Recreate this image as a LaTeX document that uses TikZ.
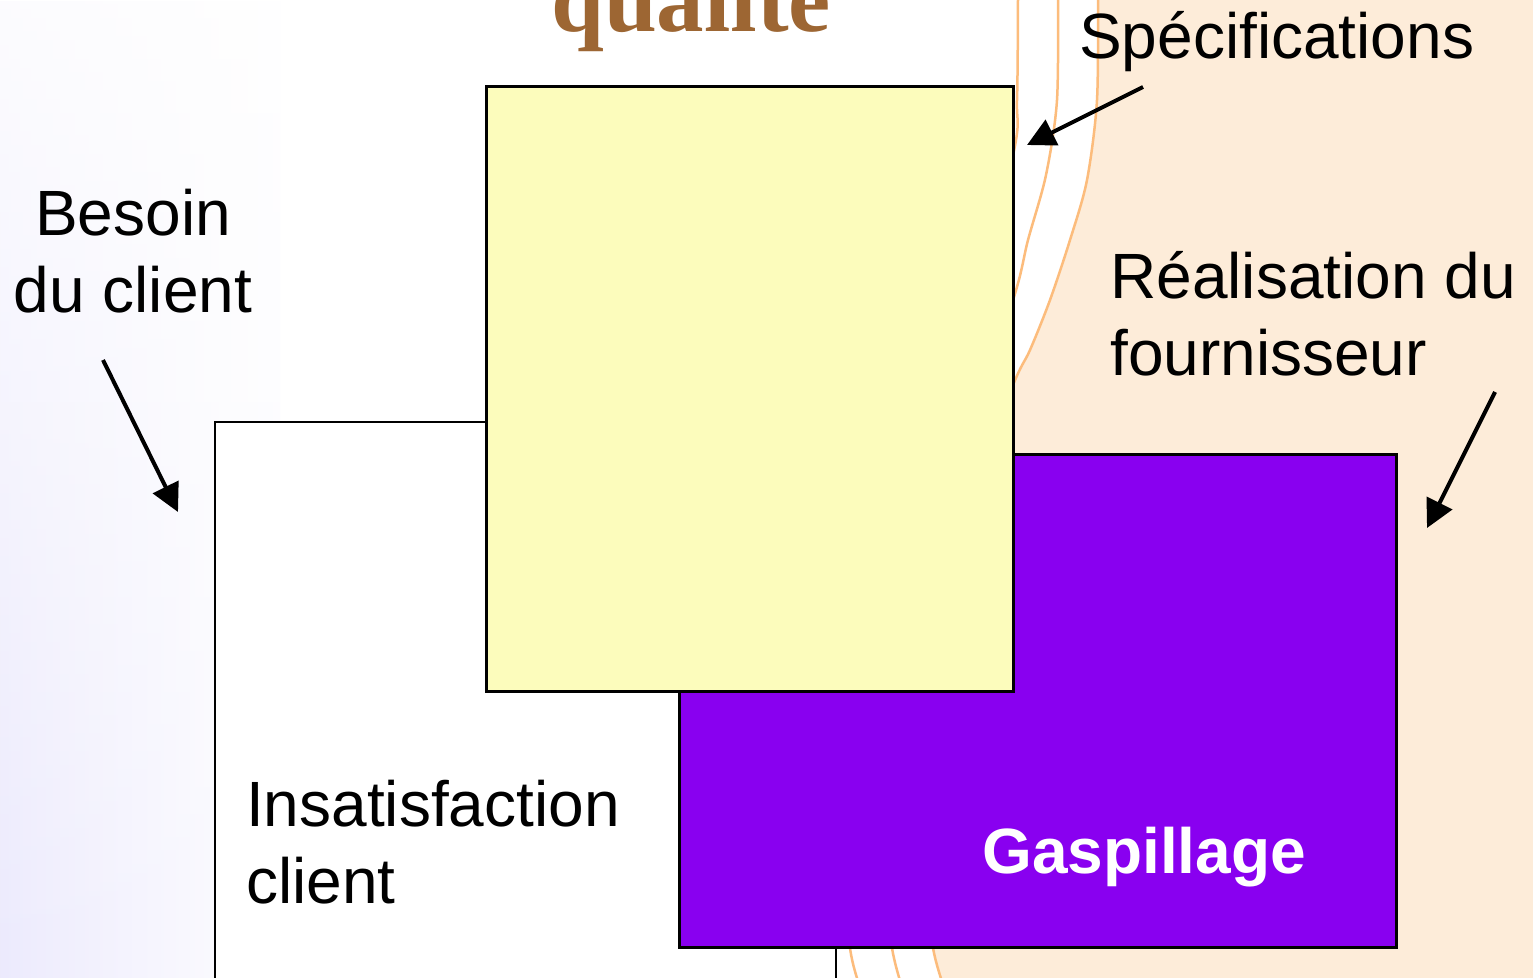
\documentclass[tikz,border=0pt]{standalone}
\usepackage{fontspec}
\setmainfont{Liberation Sans}
\newfontfamily\titlefont{Liberation Serif}
\usetikzlibrary{arrows.meta,fadings}
\definecolor{lav}{RGB}{224,221,251}
\definecolor{peach}{RGB}{253,236,217}
\definecolor{arcline}{RGB}{252,188,124}
\definecolor{paleyellow}{RGB}{252,252,188}
\definecolor{gaspviolet}{RGB}{137,0,240}
\definecolor{titlebrown}{RGB}{157,102,51}
\pgfdeclarehorizontalshading{lavwash}{100bp}{color(0bp)=(lav); color(30bp)=(lav!55!white); color(65bp)=(lav!15!white); color(100bp)=(white)}
\tikzfading[name=washfade, top color=transparent!85, middle color=transparent!5, bottom color=transparent!0]
\begin{document}
\begin{tikzpicture}[x=1pt,y=-1pt,
  lbl/.style={font=\fontsize{64}{77}\selectfont, inner sep=0pt, anchor=base west},
  zone/.style={draw=black, line width=2.5pt, anchor=north west, inner sep=0pt},
  pointer/.style={line width=4pt, -{Triangle[length=28pt,width=28pt]}},
  arcstroke/.style={draw=arcline, line width=2.5pt}
]
\useasboundingbox (0,0) rectangle (1533,977);
\begin{scope}
\clip (0,0) rectangle (1533,977);
% background: lavender wash on the left, peach band on the right
\fill[white] (0,0) rectangle (1533,977);
\shade[shading=lavwash, path fading=washfade, fit fading=true] (0,0) rectangle (280,977);
\fill[peach] plot[smooth] coordinates {(1098,-5) (1097,100) (1087,180) (1070,240) (1050,300) (1030,350) (1013,385) (960,520) (925,700) (920,850) (933,948) (945,990)}
  -- (1540,990) -- (1540,-5) -- cycle;
% decorative sweeping arcs
\draw[arcstroke] plot[smooth] coordinates {(1098,-5) (1097,100) (1087,180) (1070,240) (1050,300) (1030,350) (1013,385) (960,520) (925,700) (920,850) (933,948) (945,990)};
\draw[arcstroke] plot[smooth] coordinates {(1058,-5) (1057,100) (1046,175) (1028,240) (1013,300) (960,450) (890,700) (880,850) (892,948) (903,990)};
\draw[arcstroke] plot[smooth] coordinates {(1018,-5) (1017,100) (1012,160) (950,400) (860,700) (843,850) (850,948) (861,990)};

% title (top part runs off the page)
\node[font=\titlefont\bfseries\fontsize{95}{100}\selectfont, text=titlebrown, anchor=base west, inner sep=0pt] (title) at (551,31) {qualité};

% the three overlapping zones
\node[zone, fill=white, line width=2pt, minimum width=621pt, minimum height=600pt] (need) at (214,421) {};
\node[zone, fill=gaspviolet, minimum width=717pt, minimum height=493pt] (waste) at (678,453) {};
\node[zone, fill=paleyellow, minimum width=527pt, minimum height=605pt] (spec) at (485,85) {};

% labels (base anchor of a two-line node sits on its last line)
\node[lbl, align=center, anchor=base] (besoin) at (133,312) {Besoin\\du client};
\node[lbl] (spectxt) at (1079,58) {Spécifications};
\node[lbl, align=left] (real) at (1110,375) {Réalisation du\\fournisseur};
\node[lbl, align=left] (insat) at (246,903) {Insatisfaction\\client};
\node[lbl, font=\fontsize{64}{77}\selectfont\bfseries, text=white] (gasp) at (982,873) {Gaspillage};

% pointers
\coordinate (b0) at (103,360); \coordinate (b1) at (178,512);
\coordinate (s0) at (1143,87); \coordinate (s1) at (1027,145);
\coordinate (r0) at (1495,392); \coordinate (r1) at (1427,528);
\draw[pointer] (b0) -- (b1);
\draw[pointer] (s0) -- (s1);
\draw[pointer] (r0) -- (r1);
\end{scope}
\end{tikzpicture}
\end{document}
